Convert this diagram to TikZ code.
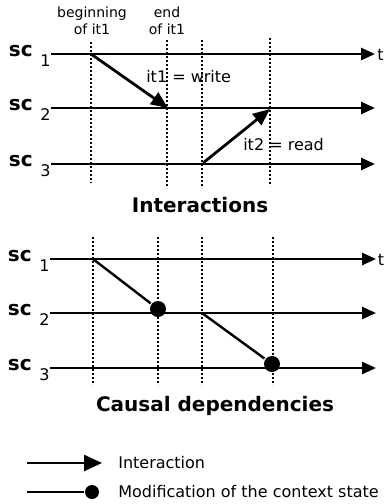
\documentclass[tikz,border=0pt]{standalone}
\usepackage{fontspec}
\setmainfont{DejaVu Sans}
\usetikzlibrary{arrows.meta, positioning}
\tikzset{
  every picture/.style={line width=2.6pt, x=1pt, y=-1pt},
  timeline/.style={-{Triangle[length=14pt, width=12pt]}},
  interaction/.style={-{Triangle[length=17pt, width=14pt]}, line width=2.8pt},
  instant/.style={dash pattern=on 2pt off 2pt, line width=2.6pt},
  dependency/.style={line width=2.4pt},
  modif/.style={circle, fill=black, inner sep=0pt, minimum size=#1},
  modif/.default=16pt,
  scname/.style={font=\bfseries\fontsize{20}{22}\selectfont, inner sep=0pt},
  scindex/.style={font=\fontsize{16}{18}\selectfont, inner sep=0pt},
  txt/.style={font=\fontsize{16}{18}\selectfont, inner sep=0pt},
  note/.style={font=\fontsize{14}{17}\selectfont, align=center, inner sep=0pt},
  heading/.style={font=\bfseries\fontsize{20}{22}\selectfont, inner sep=0pt},
}

\begin{document}
\begin{tikzpicture}
  \useasboundingbox (0,0) rectangle (385,504);
  % --- interactions ---
  \foreach \r/\y in {1/54, 2/108, 3/164} {
    \node[scname, anchor=base east] (isc\r) at (34,\y+2) {sc};
    \node[scindex, anchor=base west] (iix\r) at ([xshift=5pt, yshift=-10pt]isc\r.base east) {\r};
    \coordinate (is\r) at (51,\y);
    \coordinate (ie\r) at (375,\y);
    \draw[timeline] (is\r) -- (ie\r);
  }
  \node[txt, anchor=base west] (it) at (376,60) {t};
  \foreach \x/\ya/\yb in {91/42/183, 167/40/188, 202/40/188, 270/38/186}
    \draw[instant] (\x,\ya) -- (\x,\yb);
  \node[note] (beg) at (92,21) {beginning\\of it1};
  \node[note] (end) at (167,21) {end\\of it1};
  \coordinate (w0) at (91,54);
  \coordinate (w1) at (168,108);
  \coordinate (r0) at (203,163);
  \coordinate (r1) at (270,109);
  \draw[interaction] (w0) -- (w1);
  \draw[interaction] (r0) -- (r1);
  \node[txt, anchor=base west] (write) at (145,82) {it1 = write};
  \node[txt, anchor=base west] (read) at (242,150) {it2 = read};
  \node[heading, anchor=base] (title1) at (200,212) {Interactions};
  % --- causal dependencies ---
  \foreach \r/\y in {1/259, 2/313, 3/368} {
    \node[scname, anchor=base east] (csc\r) at (33,\y+2) {sc};
    \node[scindex, anchor=base west] (cix\r) at ([xshift=5pt, yshift=-10pt]csc\r.base east) {\r};
    \coordinate (cs\r) at (50,\y);
    \coordinate (ce\r) at (376,\y);
    \draw[timeline] (cs\r) -- (ce\r);
  }
  \node[txt, anchor=base west] (ct) at (376.5,265) {t};
  \foreach \x in {93, 158, 202, 273}
    \draw[instant] (\x,237) -- (\x,385);
  \coordinate (c0) at (93,259);
  \coordinate (c1) at (202,313);
  \node[modif] (d1) at (158,309) {};
  \node[modif] (d2) at (272,364) {};
  \draw[dependency] (c0) -- (d1);
  \draw[dependency] (c1) -- (d2);
  \node[heading, anchor=base] (title2) at (215,411) {Causal dependencies};
  % --- legend ---
  \coordinate (la) at (27,463);
  \coordinate (lb) at (102,463);
  \draw[-{Triangle[length=18pt, width=16pt]}, line width=2.6pt] (la) -- (lb);
  \node[txt, anchor=west] (lint) at (117,463) {Interaction};
  \coordinate (lc) at (27,492);
  \node[modif=14pt] (ldot) at (92,492) {};
  \draw[line width=2.6pt] (lc) -- (ldot);
  \node[txt, anchor=west] (lmod) at (117,492) {Modification of the context state};
\end{tikzpicture}
\end{document}
